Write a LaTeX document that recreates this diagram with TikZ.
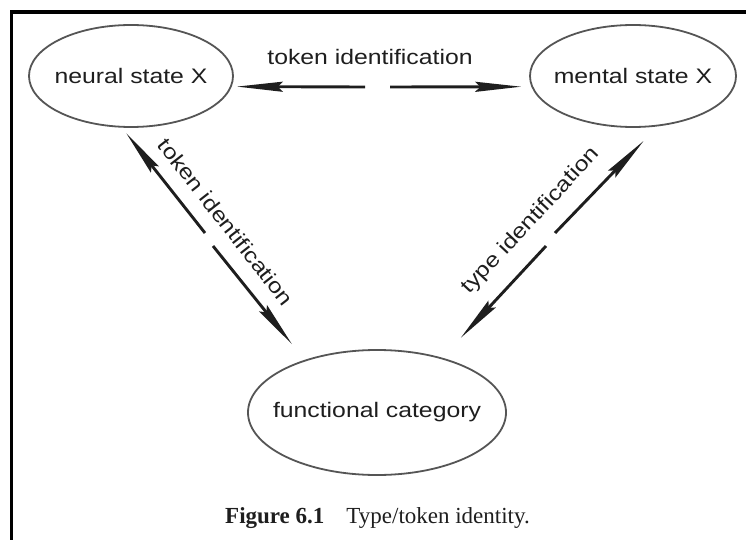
\documentclass[tikz,border=0pt]{standalone}
\usepackage{fontspec}
\setmainfont{Liberation Serif}
\newfontfamily\diagfont[FakeStretch=1.18]{Liberation Sans}
\usetikzlibrary{shapes.geometric, arrows.meta}
\definecolor{inkgray}{RGB}{30,30,30}
\definecolor{rimgray}{RGB}{85,85,85}
\tikzstyle{mindstate} = [ellipse, draw=rimgray, line width=1.8pt, inner sep=0pt, inner xsep=-25pt, text=inkgray, font=\diagfont\fontsize{21}{25}\selectfont]
\tikzstyle{idarrow} = [line width=2.9pt, draw=inkgray, -{Stealth[length=46pt, width=10pt, inset=5pt]}]
\tikzstyle{idlabel} = [text=inkgray, inner sep=0pt, font=\diagfont\fontsize{21}{25}\selectfont]

\begin{document}
\begin{tikzpicture}[x=1pt, y=-1pt]
\useasboundingbox (0,0) rectangle (746,540);

% Frame
\draw[line width=3.6pt] (11.5,540) -- (11.5,12) -- (746,12);

% States
\node[mindstate, minimum width=204pt, minimum height=102pt] (neural) at (131,76) {neural state X};
\node[mindstate, minimum width=206pt, minimum height=102pt] (mental) at (633,76) {mental state X};
\node[mindstate, minimum width=258pt, minimum height=125pt] (functional) at (377,412.5) {functional category};

% Arrow tails (gaps in the middle)
\coordinate (hL) at (365,87);
\coordinate (hR) at (390,87);
\coordinate (dL1) at (205,233);
\coordinate (dL2) at (213,246);
\coordinate (dR1) at (555,233);
\coordinate (dR2) at (546,246);

% Neural <-> mental
\draw[idarrow, shorten >=5pt] (hL) -- (neural.-6);
\draw[idarrow, shorten >=10pt] (hR) -- (mental.-174.5);
\node[idlabel, anchor=base] (toptoken) at (370,65) {token identification};

% Neural <-> functional
\draw[idarrow, shorten >=7pt] (dL1) -- (neural.-100.4);
\draw[idarrow, shorten >=20pt] (dL2) -- (functional.144.7);
\node[idlabel, rotate=-52] (lefttoken) at (226,222) {token identification};

% Mental <-> functional
\draw[idarrow, shorten >=20pt] (dR1) -- (mental.-64.7);
\draw[idarrow, shorten >=27pt] (dR2) -- (functional.40.7);
\node[idlabel, rotate=47] (righttype) at (531,221) {type identification};

% Caption
\node[anchor=base west, inner sep=0pt, text=inkgray, font=\fontsize{23}{27}\selectfont] (caption) at (225,523) {\textbf{Figure 6.1}\hspace{22pt}Type/token identity.};

\end{tikzpicture}
\end{document}
